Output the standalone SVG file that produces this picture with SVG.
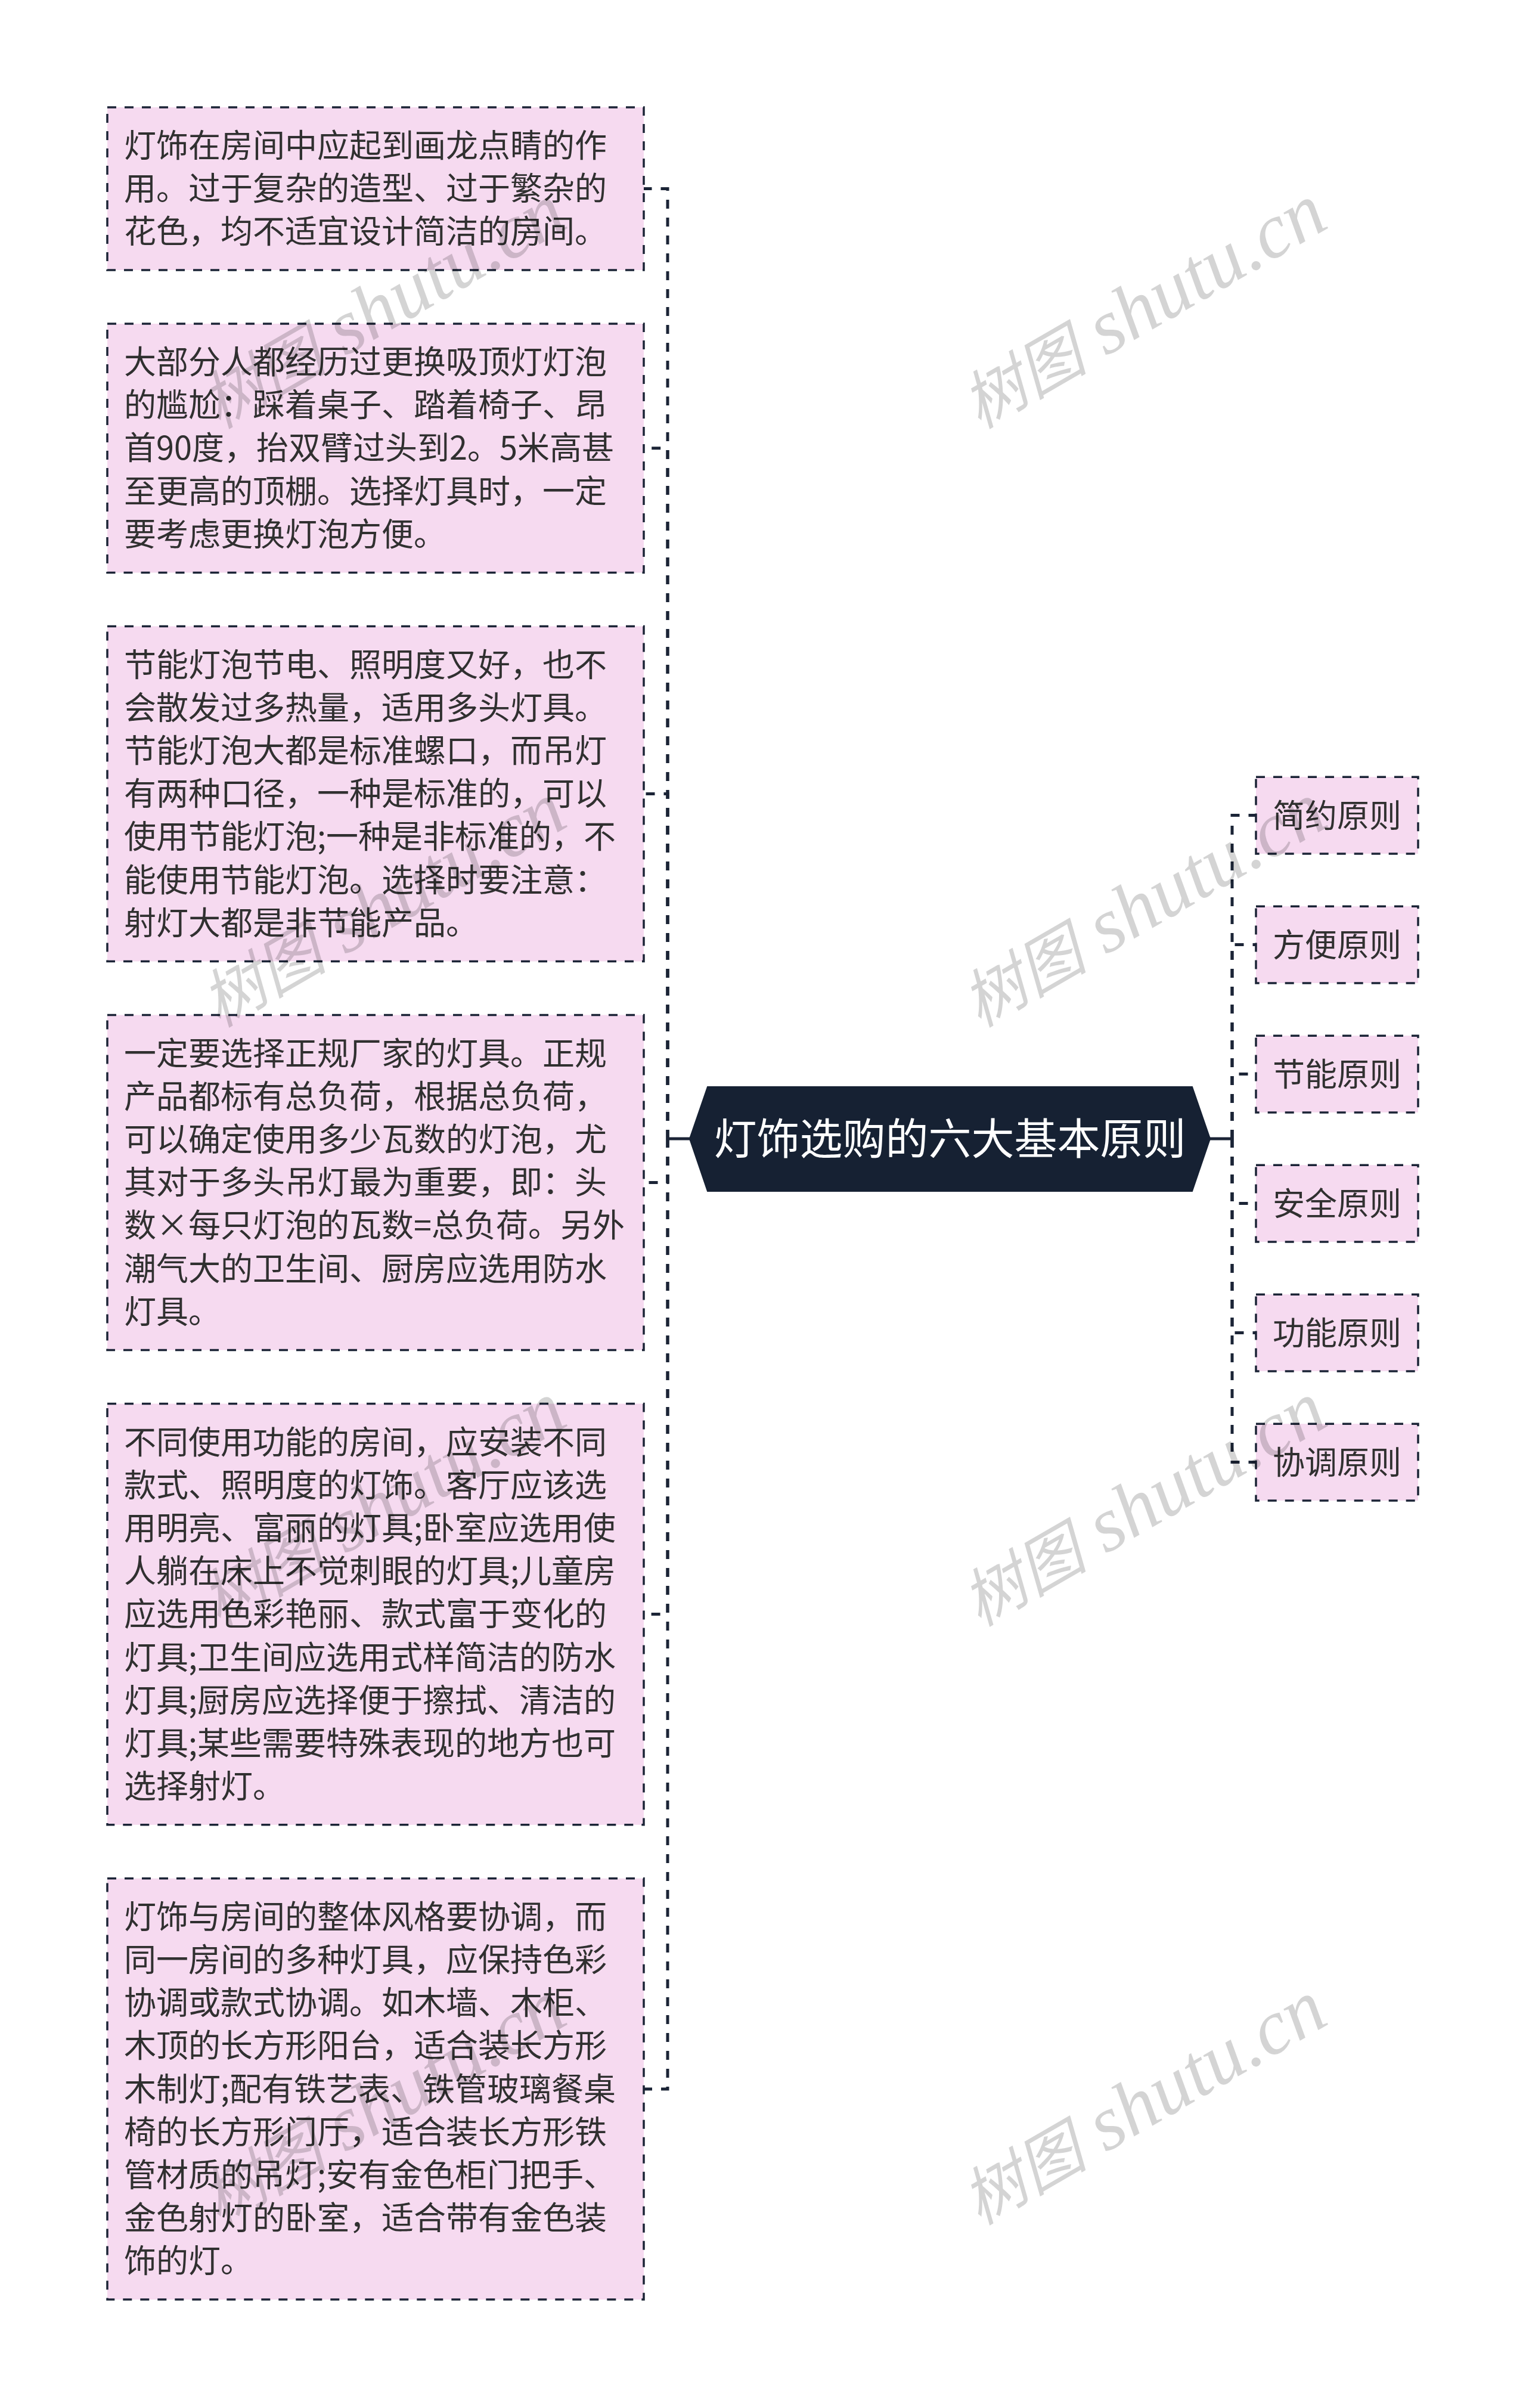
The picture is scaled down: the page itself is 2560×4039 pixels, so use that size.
<svg xmlns="http://www.w3.org/2000/svg" width="2560" height="4039" viewBox="0 0 2560 4039">
<style>
.box{fill:#f6daf0;stroke:#1b2436;stroke-width:3.5;stroke-dasharray:15 14}
.t{font-family:"Noto Sans CJK SC","Noto Sans",sans-serif;font-size:54px;fill:#303030}
.rt{font-family:"Noto Sans CJK SC","Noto Sans",sans-serif;font-size:54px;fill:#303030;text-anchor:middle}
.ct{font-family:"Noto Sans CJK SC","Noto Sans",sans-serif;font-size:72px;fill:#ffffff;text-anchor:middle}
.stub{fill:none;stroke:#1b2436;stroke-width:5}
.dash{fill:none;stroke:#1b2436;stroke-width:5;stroke-dasharray:15 15}
.wm{font-family:"Liberation Serif","Noto Sans CJK SC",serif;font-style:italic;font-size:130px;fill:#000000;fill-opacity:0.17;text-anchor:middle}
</style>
<rect width="2560" height="4039" fill="#ffffff"/>
<g id="connectors">
<path class="stub" d="M1157,1910 H1120"/>
<path class="dash" d="M1120,1910 V316.5 H1080"/>
<path class="dash" d="M1120,1910 V751.8 H1080"/>
<path class="dash" d="M1120,1910 V1331.5 H1080"/>
<path class="dash" d="M1120,1910 V1983.5 H1080"/>
<path class="dash" d="M1120,1910 V2707.6 H1080"/>
<path class="dash" d="M1120,1910 V3504 H1080"/>
<path class="stub" d="M2030,1910 H2067"/>
<path class="dash" d="M2067,1910 V1367.5 H2107"/>
<path class="dash" d="M2067,1910 V1584.5 H2107"/>
<path class="dash" d="M2067,1910 V1801.5 H2107"/>
<path class="dash" d="M2067,1910 V2018.5 H2107"/>
<path class="dash" d="M2067,1910 V2235.5 H2107"/>
<path class="dash" d="M2067,1910 V2452.5 H2107"/>
</g>
<g id="root">
<polygon points="1157,1910 1187,1823 2000,1823 2030,1910 2000,1998 1187,1998" fill="#162133" stroke="#162133" stroke-width="2"/>
<text class="ct" x="1593.5" y="1936">灯饰选购的六大基本原则</text>
</g>
<g id="n1">
<rect class="box" x="180" y="180" width="900" height="273"/>
<text class="t" x="208" y="264">灯饰在房间中应起到画龙点睛的作</text>
<text class="t" x="208" y="336.2">用。过于复杂的造型、过于繁杂的</text>
<text class="t" x="208" y="408.4">花色，均不适宜设计简洁的房间。</text>
</g>
<g id="n2">
<rect class="box" x="180" y="543" width="900" height="417.5"/>
<text class="t" x="208" y="627">大部分人都经历过更换吸顶灯灯泡</text>
<text class="t" x="208" y="699.2">的尴尬：踩着桌子、踏着椅子、昂</text>
<text class="t" x="208" y="771.4">首90度，抬双臂过头到2。5米高甚</text>
<text class="t" x="208" y="843.6">至更高的顶棚。选择灯具时，一定</text>
<text class="t" x="208" y="915.8">要考虑更换灯泡方便。</text>
</g>
<g id="n3">
<rect class="box" x="180" y="1050.5" width="900" height="562"/>
<text class="t" x="208" y="1134.5">节能灯泡节电、照明度又好，也不</text>
<text class="t" x="208" y="1206.7">会散发过多热量，适用多头灯具。</text>
<text class="t" x="208" y="1278.9">节能灯泡大都是标准螺口，而吊灯</text>
<text class="t" x="208" y="1351.1">有两种口径，一种是标准的，可以</text>
<text class="t" x="208" y="1423.3">使用节能灯泡;一种是非标准的，不</text>
<text class="t" x="208" y="1495.5">能使用节能灯泡。选择时要注意：</text>
<text class="t" x="208" y="1567.7">射灯大都是非节能产品。</text>
</g>
<g id="n4">
<rect class="box" x="180" y="1702.5" width="900" height="562"/>
<text class="t" x="208" y="1786.5">一定要选择正规厂家的灯具。正规</text>
<text class="t" x="208" y="1858.7">产品都标有总负荷，根据总负荷，</text>
<text class="t" x="208" y="1930.9">可以确定使用多少瓦数的灯泡，尤</text>
<text class="t" x="208" y="2003.1">其对于多头吊灯最为重要，即：头</text>
<text class="t" x="208" y="2075.3">数×每只灯泡的瓦数=总负荷。另外</text>
<text class="t" x="208" y="2147.5">潮气大的卫生间、厨房应选用防水</text>
<text class="t" x="208" y="2219.7">灯具。</text>
</g>
<g id="n5">
<rect class="box" x="180" y="2354.5" width="900" height="706.3"/>
<text class="t" x="208" y="2438.5">不同使用功能的房间，应安装不同</text>
<text class="t" x="208" y="2510.7">款式、照明度的灯饰。客厅应该选</text>
<text class="t" x="208" y="2582.9">用明亮、富丽的灯具;卧室应选用使</text>
<text class="t" x="208" y="2655.1">人躺在床上不觉刺眼的灯具;儿童房</text>
<text class="t" x="208" y="2727.3">应选用色彩艳丽、款式富于变化的</text>
<text class="t" x="208" y="2799.5">灯具;卫生间应选用式样简洁的防水</text>
<text class="t" x="208" y="2871.7">灯具;厨房应选择便于擦拭、清洁的</text>
<text class="t" x="208" y="2943.9">灯具;某些需要特殊表现的地方也可</text>
<text class="t" x="208" y="3016.1">选择射灯。</text>
</g>
<g id="n6">
<rect class="box" x="180" y="3150.8" width="900" height="706.3"/>
<text class="t" x="208" y="3234.8">灯饰与房间的整体风格要协调，而</text>
<text class="t" x="208" y="3307">同一房间的多种灯具，应保持色彩</text>
<text class="t" x="208" y="3379.2">协调或款式协调。如木墙、木柜、</text>
<text class="t" x="208" y="3451.4">木顶的长方形阳台，适合装长方形</text>
<text class="t" x="208" y="3523.6">木制灯;配有铁艺表、铁管玻璃餐桌</text>
<text class="t" x="208" y="3595.8">椅的长方形门厅，适合装长方形铁</text>
<text class="t" x="208" y="3668">管材质的吊灯;安有金色柜门把手、</text>
<text class="t" x="208" y="3740.2">金色射灯的卧室，适合带有金色装</text>
<text class="t" x="208" y="3812.4">饰的灯。</text>
</g>
<g id="r1"><rect class="box" x="2107" y="1303.2" width="272" height="128.7"/><text class="rt" x="2243" y="1387.5">简约原则</text></g>
<g id="r2"><rect class="box" x="2107" y="1520.2" width="272" height="128.7"/><text class="rt" x="2243" y="1604.5">方便原则</text></g>
<g id="r3"><rect class="box" x="2107" y="1737.2" width="272" height="128.7"/><text class="rt" x="2243" y="1821.5">节能原则</text></g>
<g id="r4"><rect class="box" x="2107" y="1954.2" width="272" height="128.7"/><text class="rt" x="2243" y="2038.5">安全原则</text></g>
<g id="r5"><rect class="box" x="2107" y="2171.2" width="272" height="128.7"/><text class="rt" x="2243" y="2255.5">功能原则</text></g>
<g id="r6"><rect class="box" x="2107" y="2388.2" width="272" height="128.7"/><text class="rt" x="2243" y="2472.5">协调原则</text></g>
<g id="watermarks">
<text class="wm" transform="translate(1938,550) rotate(-30)"><tspan font-size="106">树图</tspan> shutu.cn</text>
<text class="wm" transform="translate(1938,1554) rotate(-30)"><tspan font-size="106">树图</tspan> shutu.cn</text>
<text class="wm" transform="translate(1938,2559) rotate(-30)"><tspan font-size="106">树图</tspan> shutu.cn</text>
<text class="wm" transform="translate(1938,3563) rotate(-30)"><tspan font-size="106">树图</tspan> shutu.cn</text>
<text class="wm" transform="translate(662,550) rotate(-30)"><tspan font-size="106">树图</tspan> shutu.cn</text>
<text class="wm" transform="translate(662,1554) rotate(-30)"><tspan font-size="106">树图</tspan> shutu.cn</text>
<text class="wm" transform="translate(662,2559) rotate(-30)"><tspan font-size="106">树图</tspan> shutu.cn</text>
<text class="wm" transform="translate(662,3563) rotate(-30)"><tspan font-size="106">树图</tspan> shutu.cn</text>
</g>
</svg>
